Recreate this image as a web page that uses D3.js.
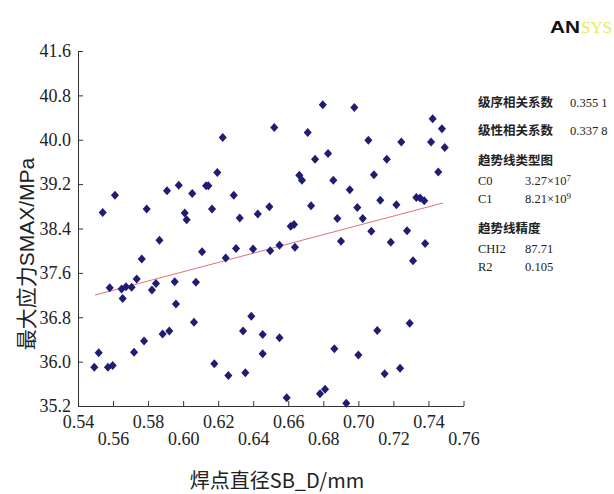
<!DOCTYPE html>
<html>
<head>
<meta charset="utf-8">
<script src="https://cdn.jsdelivr.net/npm/d3@7/dist/d3.min.js"></script>
<style>
  html, body { margin: 0; padding: 0; background: #fff; }
  svg { display: block; }
  .axis text { font-family: "Liberation Serif", "Times New Roman", serif; font-size: 18px; }
</style>
</head>
<body>
<script>
// Sample points: weld spot diameter (mm) vs. maximum stress (MPa)
const diameter = [
  0.5541, 0.5611, 0.5792, 0.5865, 0.5908, 0.5975, 0.6009, 0.6020, 0.6052, 0.6131,
  0.6144, 0.6165, 0.6195, 0.6226, 0.6289, 0.6323, 0.6426, 0.6492, 0.6520, 0.6797,
  0.6977, 0.7424, 0.7477, 0.6711, 0.7057, 0.7245, 0.7415, 0.7493, 0.6827, 0.6753,
  0.7162, 0.7456, 0.6663, 0.6678, 0.6857, 0.7089, 0.6951, 0.6730, 0.7125, 0.7217,
  0.7331, 0.7352, 0.7376, 0.6994, 0.7025, 0.6880, 0.6614, 0.6633, 0.7074, 0.7278,
  0.6901, 0.7185, 0.7381, 0.6550, 0.6108, 0.6302, 0.6399, 0.6497, 0.5764, 0.6243,
  0.5735, 0.5581, 0.5649, 0.5674, 0.5706, 0.5655, 0.5822, 0.5845, 0.5952, 0.6073,
  0.5959, 0.6062, 0.6389, 0.6342, 0.6454, 0.6550, 0.5883, 0.5921, 0.5777, 0.5720,
  0.5518, 0.5493, 0.5571, 0.5598, 0.6454, 0.6178, 0.6258, 0.6355, 0.6638, 0.7312,
  0.7108, 0.7293, 0.6863, 0.7000, 0.7150, 0.7238, 0.6591, 0.6781, 0.6810, 0.6931
];
const maxStress = [
  38.69, 39.00, 38.75, 38.19, 39.08, 39.18, 38.68, 38.56, 39.03, 39.17,
  39.17, 38.75, 39.41, 40.04, 39.00, 38.59, 38.66, 38.79, 40.22, 40.63,
  40.58, 40.38, 40.20, 40.13, 39.99, 39.96, 39.96, 39.86, 39.75, 39.65,
  39.65, 39.42, 39.36, 39.27, 39.27, 39.37, 39.10, 38.81, 38.91, 38.83,
  38.96, 38.95, 38.90, 38.78, 38.58, 38.58, 38.44, 38.47, 38.35, 38.36,
  38.17, 38.15, 38.13, 38.10, 37.98, 38.04, 38.03, 38.00, 37.85, 37.87,
  37.49, 37.33, 37.31, 37.35, 37.34, 37.14, 37.29, 37.41, 37.44, 37.43,
  37.04, 36.71, 36.82, 36.55, 36.49, 36.43, 36.50, 36.55, 36.37, 36.17,
  36.16, 35.90, 35.90, 35.93, 36.14, 35.96, 35.75, 35.80, 38.06, 37.82,
  36.56, 36.69, 36.23, 36.12, 35.78, 35.88, 35.35, 35.42, 35.50, 35.25
];

// Fitted trend line end points
const trendX = [0.5497, 0.7483];
const trendY = [37.20, 38.86];

// Axis ticks
const xTicks = [0.54, 0.56, 0.58, 0.60, 0.62, 0.64, 0.66, 0.68, 0.70, 0.72, 0.74, 0.76];
const yTicks = [35.2, 36.0, 36.8, 37.6, 38.4, 39.2, 40.0, 40.8, 41.6];

// Statistics panel text
const statRows = [
  { label: "级序相关系数", value: "0.355 1" },
  { label: "级性相关系数", value: "0.337 8" }
];
const coefTitle = "趋势线类型图";
const coefNames = ["C0", "C1"];
const coefMantissa = ["3.27", "8.21"];
const coefExponent = ["7", "9"];
const fitTitle = "趋势线精度";
const fitNames = ["CHI2", "R2"];
const fitValues = ["87.71", "0.105"];

const W = 614, H = 494;
const svg = d3.select("body").append("svg")
  .attr("width", W).attr("height", H)
  .style("background", "#fff");

const x = d3.scaleLinear().domain([0.54, 0.76]).range([78, 463.5]);
const y = d3.scaleLinear().domain([35.2, 41.6]).range([406, 51]);

const serif = "Liberation Serif, Times New Roman, serif";
const sans = "Liberation Sans, Arial, sans-serif";
const cjk = "Noto Sans CJK SC, Noto Sans, sans-serif";

// X axis with alternating two-row labels
const gx = svg.append("g").attr("class", "axis")
  .attr("transform", `translate(0,${y(35.2)})`)
  .call(d3.axisBottom(x).tickValues(xTicks).tickSizeInner(-5).tickSizeOuter(0)
    .tickFormat(d3.format(".2f")))
  .attr("font-family", serif).attr("font-size", 18);
gx.selectAll("text")
  .attr("y", (d, i) => i % 2 === 0 ? 16 : 33)
  .attr("dy", "0.35em")
  .attr("fill", "#222");

// Y axis
const gy = svg.append("g").attr("class", "axis")
  .attr("transform", `translate(${x(0.54)},0)`)
  .call(d3.axisLeft(y).tickValues(yTicks).tickSizeInner(-5).tickSizeOuter(0)
    .tickPadding(7).tickFormat(d3.format(".1f")))
  .attr("font-family", serif).attr("font-size", 18);
gy.selectAll("text").attr("fill", "#222");

svg.selectAll(".domain, .tick line").attr("stroke", "#333").attr("stroke-width", 1);

// Trend line
svg.append("path")
  .datum(d3.zip(trendX, trendY))
  .attr("d", d3.line().x(d => x(d[0])).y(d => y(d[1])))
  .attr("fill", "none")
  .attr("stroke", "#e0707a")
  .attr("stroke-width", 1);

// Diamond marker slightly taller than wide
const diamond = {
  draw(ctx, size) {
    const h = Math.sqrt(size) * 0.75, w = h * 0.9;
    ctx.moveTo(0, -h); ctx.lineTo(w, 0); ctx.lineTo(0, h); ctx.lineTo(-w, 0); ctx.closePath();
  }
};
const sym = d3.symbol().type(diamond).size(36);

svg.append("g").selectAll("path")
  .data(d3.zip(diameter, maxStress))
  .join("path")
  .attr("transform", d => `translate(${x(d[0])},${y(d[1])})`)
  .attr("d", sym)
  .attr("fill", "#1f1d72");

// Axis titles
svg.append("text")
  .attr("x", 277).attr("y", 483)
  .attr("text-anchor", "middle").attr("dominant-baseline", "middle")
  .attr("font-family", cjk).attr("font-size", 20).attr("fill", "#222")
  .text("焊点直径SB_D/mm");

const yTitle = svg.append("text")
  .attr("transform", "translate(28,254) rotate(-90)")
  .attr("text-anchor", "middle").attr("dominant-baseline", "middle")
  .attr("font-family", cjk).attr("font-size", 21).attr("fill", "#222");
yTitle.append("tspan").text("最大应力");
yTitle.append("tspan").attr("font-family", sans).text("SMAX/MPa");

// Statistics panel
const px0 = 478, pxVal = 525;
const panel = svg.append("g").attr("font-size", 12.5).attr("fill", "#222");
const rowYs = [103, 131];
statRows.forEach((r, i) => {
  panel.append("text").attr("x", px0).attr("y", rowYs[i]).attr("dy", "0.35em")
    .attr("font-family", cjk).attr("font-weight", 700).text(r.label);
  panel.append("text").attr("x", 570).attr("y", rowYs[i]).attr("dy", "0.35em")
    .attr("font-family", serif).text(r.value);
});
panel.append("text").attr("x", px0).attr("y", 161).attr("dy", "0.35em")
  .attr("font-family", cjk).attr("font-weight", 700).text(coefTitle);
[181, 199].forEach((yy, i) => {
  panel.append("text").attr("x", px0).attr("y", yy).attr("dy", "0.35em")
    .attr("font-family", serif).text(coefNames[i]);
  const t = panel.append("text").attr("x", pxVal).attr("y", yy).attr("dy", "0.35em")
    .attr("font-family", serif);
  t.append("tspan").text(coefMantissa[i] + "×10");
  t.append("tspan").attr("dy", "-0.45em").attr("font-size", 9).text(coefExponent[i]);
});
panel.append("text").attr("x", px0).attr("y", 229).attr("dy", "0.35em")
  .attr("font-family", cjk).attr("font-weight", 700).text(fitTitle);
[249, 267].forEach((yy, i) => {
  panel.append("text").attr("x", px0).attr("y", yy).attr("dy", "0.35em")
    .attr("font-family", serif).text(fitNames[i]);
  panel.append("text").attr("x", pxVal).attr("y", yy).attr("dy", "0.35em")
    .attr("font-family", serif).text(fitValues[i]);
});

// Logo
svg.append("text").attr("x", 550).attr("y", 33)
  .attr("textLength", 30).attr("lengthAdjust", "spacingAndGlyphs")
  .attr("font-family", sans).attr("font-size", 17).attr("font-weight", 900)
  .attr("fill", "#111").text("AN");
svg.append("text").attr("x", 581).attr("y", 33)
  .attr("textLength", 31).attr("lengthAdjust", "spacingAndGlyphs")
  .attr("font-family", serif).attr("font-size", 17)
  .attr("fill", "#e2ec5a").text("SYS");
</script>
</body>
</html>
